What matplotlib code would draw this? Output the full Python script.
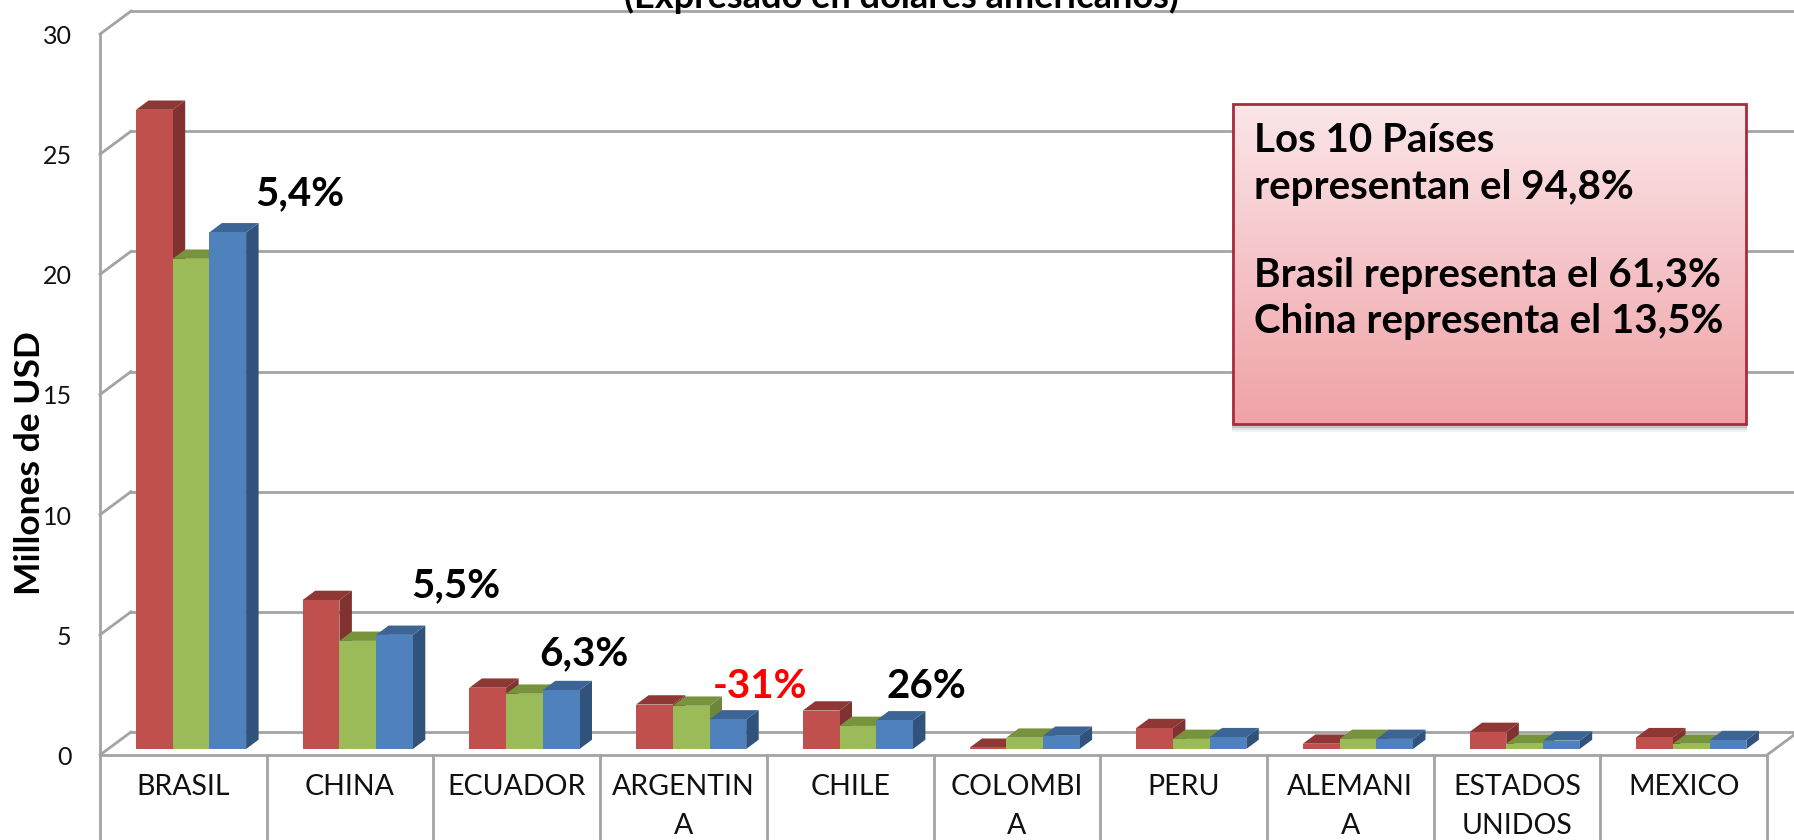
import numpy as np
import matplotlib
matplotlib.use('agg')
import matplotlib.pyplot as plt
from matplotlib.patches import Polygon, Rectangle

paises = ['BRASIL', 'CHINA', 'ECUADOR', 'ARGENTIN\nA', 'CHILE', 'COLOMBI\nA',
          'PERU', 'ALEMANI\nA', 'ESTADOS\nUNIDOS', 'MEXICO']
rojo = [26.6, 6.2, 2.55, 1.85, 1.6, 0.05, 0.87, 0.22, 0.71, 0.49]
verde = [20.4, 4.5, 2.3, 1.8, 0.96, 0.47, 0.42, 0.42, 0.22, 0.22]
azul = [21.5, 4.75, 2.45, 1.23, 1.19, 0.55, 0.49, 0.42, 0.35, 0.37]
yticks = [0, 5, 10, 15, 20, 25, 30]

# etiquetas de variacion: texto, color, x e y del centro en pixeles
var_textos = ['5,4%', '5,5%', '6,3%', '-31%', '26%']
var_colores = ['black', 'black', 'black', 'red', 'black']
var_x = [300, 456, 584, 760, 926]
var_y = [194, 586, 654, 687, 687]

caja_textos = ['Los 10 Países', 'representan el 94,8%',
               'Brasil representa el 61,3%', 'China representa el 13,5%']
caja_y = [141, 187, 275, 321]

W, H = 1794, 840
PX_CAT = 166.7   # pixeles por categoria
PX_UNI = 24.03   # pixeles por millon
X0, Y0 = 100, 749  # origen de categorias y base de las barras

# profundidad de las barras y de las paredes, en unidades de datos
bar_dx, bar_dy = 12.5 / PX_CAT, 9.3 / PX_UNI
wall_dx, wall_dy = 31 / PX_CAT, 23 / PX_UNI
piso = -6 / PX_UNI
GRIS = '#a3a3a3'

FUENTE = ['Lato', 'DejaVu Sans']
plt.rcParams['font.family'] = FUENTE

fig = plt.figure(figsize=(W / 100, H / 100), dpi=100)
ax = fig.add_axes([0, 0, 1, 1])
ax.set_xlim(-X0 / PX_CAT, (W - X0) / PX_CAT)
ax.set_ylim((Y0 - H) / PX_UNI, Y0 / PX_UNI)
ax.set_axis_off()

xder = ax.get_xlim()[1]

# paredes y rejilla
for v in yticks:
    ax.plot([0, wall_dx], [v + piso, v + piso + wall_dy], color=GRIS, lw=2, zorder=1)
    ax.plot([wall_dx, xder], [v + piso + wall_dy] * 2, color=GRIS, lw=2, zorder=1)
    ax.text(-0.17, v + piso - 0.1, str(v), ha='right', va='center', fontsize=18, color='#111111')
ax.plot([0, 0], [piso, 30 + piso], color=GRIS, lw=2, zorder=1)
ax.plot([0, 10], [piso, piso], color=GRIS, lw=2, zorder=1.5)
ax.plot([10, 10 + wall_dx], [piso, piso + wall_dy], color=GRIS, lw=2, zorder=1)

# tabla de categorias
fondo = ax.get_ylim()[0]
for i in range(11):
    ax.plot([i, i], [piso, fondo], color=GRIS, lw=2, zorder=1)
for i, nombre in enumerate(paises):
    lineas = nombre.split('\n')
    for j, lin in enumerate(lineas):
        ax.text(i + 0.5, (Y0 - (787 + 39 * j)) / PX_UNI, lin, ha='center', va='center',
                fontsize=20.5, color='#111111')

# barras con falso 3D
series = [(rojo, '#c0504d', '#7f3230', '#8e3735'),
          (verde, '#9bbb59', '#6d883d', '#77933c'),
          (azul, '#4f81bd', '#31527b', '#3c6494')]
ancho = 36.7 / PX_CAT
inicio = 36 / PX_CAT
pos = np.arange(len(paises))
for k, (vals, cfrente, clado, ctapa) in enumerate(series):
    xs = pos + inicio + k * ancho
    for x, v in zip(xs, vals):
        z = 3 + k
        ax.add_patch(Polygon([(x + ancho, 0), (x + ancho + bar_dx, bar_dy),
                              (x + ancho + bar_dx, v + bar_dy), (x + ancho, v)],
                             fc=clado, ec='none', zorder=z))
        ax.add_patch(Polygon([(x, v), (x + bar_dx, v + bar_dy),
                              (x + ancho + bar_dx, v + bar_dy), (x + ancho, v)],
                             fc=ctapa, ec='none', zorder=z))
    ax.bar(xs, vals, width=ancho, align='edge', color=cfrente, zorder=3.5 + k)

# capa en pixeles para titulo, etiquetas y caja
ov = fig.add_axes([0, 0, 1, 1])
ov.set_xlim(0, W)
ov.set_ylim(H, 0)
ov.set_axis_off()
ov.patch.set_alpha(0)

ov.text(901, 8, '(Expresado en dolares americanos)', ha='center', va='baseline',
        fontsize=26, fontweight='bold', color='black')
ov.text(30, 463, 'Millones de USD', rotation=90, ha='center', va='center',
        fontsize=25.5, fontweight='bold', color='black')

for t, c, x, y in zip(var_textos, var_colores, var_x, var_y):
    ov.text(x, y, t, color=c, ha='center', va='center', fontsize=29, fontweight='bold')

# caja con degradado y sombra
bx0, bx1, by0, by1 = 1233, 1746, 104, 424
for s, a in [(7, 0.06), (5, 0.10), (3, 0.16)]:
    ov.add_patch(Rectangle((bx0 - 1, by0 + s), bx1 - bx0 + 2, by1 - by0 + 1,
                           fc='#404040', ec='none', alpha=a, zorder=5))
c_arriba = np.array(matplotlib.colors.to_rgb('#fbe6e8'))
c_abajo = np.array(matplotlib.colors.to_rgb('#efa2a7'))
t = np.linspace(0, 1, 256)[:, None, None]
grad = c_arriba[None, None, :] * (1 - t) + c_abajo[None, None, :] * t
ov.imshow(grad, extent=(bx0, bx1, by1, by0), aspect='auto', zorder=6)
ov.set_xlim(0, W)
ov.set_ylim(H, 0)
ov.add_patch(Rectangle((bx0, by0), bx1 - bx0, by1 - by0, fc='none', ec='#a92c3c', lw=2, zorder=7))
for lin, y in zip(caja_textos, caja_y):
    ov.text(1254, y, lin, ha='left', va='center', fontsize=29, fontweight='bold',
            color='black', zorder=8)

fig.savefig('out.png', dpi=100)
